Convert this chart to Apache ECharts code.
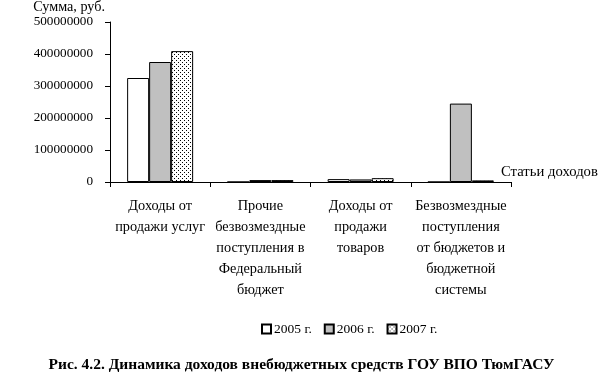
<!DOCTYPE html>
<html><head><meta charset="utf-8">
<script src="https://cdn.jsdelivr.net/npm/echarts@6/dist/echarts.min.js"></script>
<style>html,body{margin:0;padding:0;background:#fff}#c{width:603px;height:385px}</style>
</head><body><div id="c"></div>
<script>
const categories = [
  "Доходы от\nпродажи услуг",
  "Прочие\nбезвозмездные\nпоступления в\nФедеральный\nбюджет",
  "Доходы от\nпродажи\nтоваров",
  "Безвозмездные\nпоступления\nот бюджетов и\nбюджетной\nсистемы"
];
const seriesNames = ["2005 г.", "2006 г.", "2007 г."];
const values2005 = [325000000, 0, 9000000, 0];
const values2006 = [375000000, 6000000, 8000000, 245000000];
const values2007 = [409000000, 6000000, 12000000, 5000000];
const yMin = 0, yMax = 500000000, yStep = 100000000;
const yAxisTitle = "Сумма, руб.";
const xAxisTitle = "Статьи доходов";
const chartTitle = "Рис. 4.2. Динамика доходов внебюджетных средств ГОУ ВПО ТюмГАСУ";

const FONT = "Liberation Serif";
function dotPattern() {
  const c = document.createElement('canvas');
  c.width = 4; c.height = 4;
  const g = c.getContext('2d');
  g.fillStyle = '#fff'; g.fillRect(0,0,4,4);
  g.fillStyle = '#000';
  g.fillRect(0,0,1,1); g.fillRect(2,2,1,1);
  return c;
}
const pat = {image: dotPattern(), repeat: 'repeat'};
const fills = ['#ffffff', '#c0c0c0', pat];
const data = [values2005, values2006, values2007];

const chart = echarts.init(document.getElementById('c'), null, {renderer: 'canvas'});
chart.setOption({
  animation: false,
  backgroundColor: '#fff',
  textStyle: {fontFamily: FONT, color: '#000'},
  title: {
    text: chartTitle, left: 'center', top: 352,
    textStyle: {fontFamily: FONT, fontSize: 15.5, fontWeight: 'bold', color: '#000'}
  },
  legend: {
    data: seriesNames, left: 256, top: 317,
    itemWidth: 9, itemHeight: 9, itemGap: 12,
    textStyle: {fontFamily: FONT, fontSize: 13.5, color: '#000', padding: [0,0,0,-2]},
    icon: 'rect'
  },
  grid: {left: 110, right: 92, top: 21, bottom: 203, containLabel: false},
  xAxis: {
    type: 'category', data: categories,
    name: xAxisTitle, nameLocation: 'end', nameGap: -10,
    nameTextStyle: {fontFamily: FONT, fontSize: 14.7, color: '#000', align: 'left', verticalAlign: 'bottom', padding: [0,0,2,0]},
    axisLine: {lineStyle: {color: '#000', width: 1}},
    axisTick: {show: true, length: 5, inside: false, alignWithLabel: false, lineStyle: {color: '#000'}},
    axisLabel: {interval: 0, margin: 14, fontFamily: FONT, fontSize: 14.3, color: '#000', lineHeight: 21, align: 'center'},
    splitLine: {show: false}
  },
  yAxis: {
    type: 'value', min: yMin, max: yMax, interval: yStep,
    name: yAxisTitle, nameLocation: 'end', nameGap: 15,
    nameTextStyle: {fontFamily: FONT, fontSize: 14.2, color: '#000', align: 'right', verticalAlign: 'middle', padding: [0,5,0,0]},
    axisLine: {show: true, lineStyle: {color: '#000', width: 1}},
    axisTick: {show: true, length: 5, lineStyle: {color: '#000'}},
    axisLabel: {margin: 17, fontFamily: FONT, fontSize: 13.2, color: '#000', formatter: v => String(v)},
    splitLine: {show: false}
  },
  series: seriesNames.map((n, i) => ({
    name: n, type: 'bar', data: data[i],
    barWidth: 22, barGap: '0%',
    itemStyle: {color: fills[i], borderColor: '#000', borderWidth: 1}
  }))
});
</script></body></html>
